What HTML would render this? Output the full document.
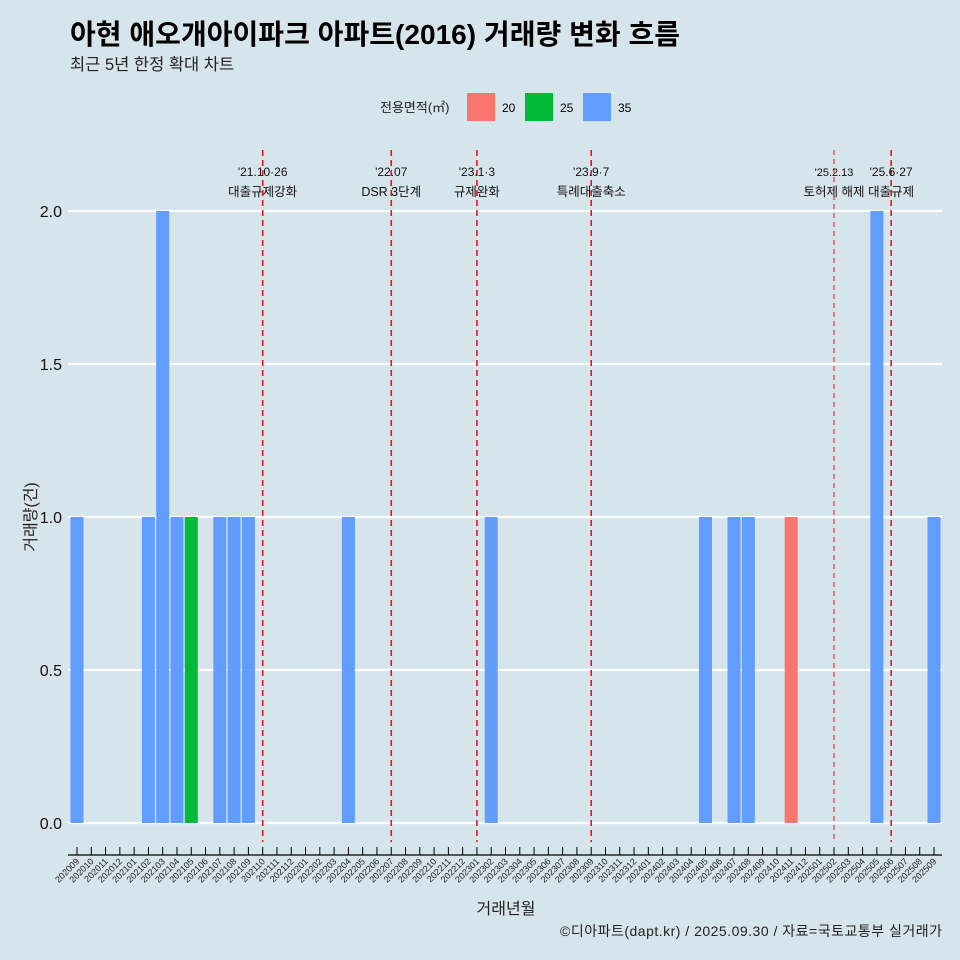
<!DOCTYPE html>
<html><head><meta charset="utf-8"><style>
body{margin:0;background:#d6e4eb;}
svg{display:block;font-family:"Liberation Sans","Noto Sans CJK KR",sans-serif;}
</style></head><body>
<svg id="chart" width="960" height="960">
<rect width="960" height="960" fill="#d6e4eb"/>
<text x="70" y="44" font-size="28" font-weight="bold" fill="#000" textLength="610">아현 애오개아이파크 아파트(2016) 거래량 변화 흐름</text>
<text x="70" y="70" font-size="16.5" fill="#222">최근 5년 한정 확대 차트</text>
<g>
<text x="380" y="112" font-size="13" fill="#222">전용면적(㎡)</text>
<rect x="467" y="93" width="28" height="28" fill="#f8766d"/>
<text x="502" y="112" font-size="12">20</text>
<rect x="525" y="93" width="28" height="28" fill="#00ba38"/>
<text x="560" y="112" font-size="12">25</text>
<rect x="583" y="93" width="28" height="28" fill="#619cff"/>
<text x="618" y="112" font-size="12">35</text>
</g>
<g id="grid"></g><g id="bars"></g><g id="axis"></g><g id="events"></g>
<text x="36" y="517" font-size="16" fill="#222" transform="rotate(-90 36 517)" text-anchor="middle">거래량(건)</text>
<text x="506" y="914" font-size="16" fill="#222" text-anchor="middle">거래년월</text>
<text x="942" y="936" font-size="14" fill="#222" text-anchor="end" textLength="382">©디아파트(dapt.kr) / 2025.09.30 / 자료=국토교통부 실거래가</text>
</svg>
<script>
const months=[];
for(let y=2020,m=9;months.length<61;){months.push(''+y+String(m).padStart(2,'0'));m++;if(m>12){m=1;y++;}}
const barMonths=['202009','202102','202103','202104','202105','202107','202108','202109','202204','202302','202405','202407','202408','202411','202505','202509'];
const barValues=[1,1,2,1,1,1,1,1,1,1,1,1,1,1,2,1];
const barAreas=['35','35','35','35','25','35','35','35','35','35','35','35','35','20','35','35'];
const yTicks=[0,0.5,1,1.5,2];
const yTickLabels=['0.0','0.5','1.0','1.5','2.0'];
const eventMonths=['202110','202207','202301','202309','202502','202506'];
const eventDates=["'21.10·26","'22.07","'23.1·3","'23.9·7","'25.2.13","'25.6·27"];
const eventLabels=['대출규제강화','DSR 3단계','규제완화','특례대출축소','토허제 해제','대출규제'];
const colors={'20':'#f8766d','25':'#00ba38','35':'#619cff'};
const NS='http://www.w3.org/2000/svg';
const x=m=>77+months.indexOf(m)*(934-77)/60;
const y=v=>823-v*306;
function mk(t,a,p,txt){const e=document.createElementNS(NS,t);for(const k in a)e.setAttribute(k,a[k]);if(txt!==undefined)e.textContent=txt;p.appendChild(e);return e;}
const G=document.getElementById('grid'),B=document.getElementById('bars'),A=document.getElementById('axis'),E=document.getElementById('events');
yTicks.forEach((v,i)=>{
 const l=mk('line',{x1:68,x2:942,y1:y(v),y2:y(v),stroke:'#fff','stroke-width':2.2},G);
 
 
 const t=mk('text',{x:62,y:y(v)+6,'font-size':16,'text-anchor':'end',fill:'#111'},G,yTickLabels[i]);
 
 
});
barMonths.forEach((m,i)=>{
 const r=mk('rect',{x:x(m)-6.5,y:y(barValues[i]),width:13,height:y(0)-y(barValues[i]),fill:colors[barAreas[i]]},B);
 
 
});
const ax=mk('line',{x1:68,x2:942,y1:855,y2:855,stroke:'#000','stroke-width':1.2},A);


months.forEach(m=>{
 const xx=x(m);
 const tk=mk('line',{x1:xx,x2:xx,y1:847,y2:855,stroke:'#000','stroke-width':1},A);
 
 
 const t=mk('text',{x:xx+3,y:862,'font-size':9,'text-anchor':'end',fill:'#222',transform:`rotate(-45 ${xx+3} 862)`},A,m);
 
 
});
eventMonths.forEach((m,i)=>{
 const xx=x(m);const thin=m==='202502';
 const l=mk('line',{x1:xx,x2:xx,y1:150,y2:842,stroke:'#e8141c','stroke-width':thin?1:1.6,'stroke-dasharray':thin?'5,4':'6,4'},E);
 
 
 const t1=mk('text',{x:xx,y:176,'font-size':thin?11:12,'text-anchor':'middle',fill:'#111'},E,eventDates[i]);
 
 
 const t2=mk('text',{x:xx,y:196,'font-size':12.5,'text-anchor':'middle',fill:'#111'},E,eventLabels[i]);
 
 
});
</script>
</body></html>
